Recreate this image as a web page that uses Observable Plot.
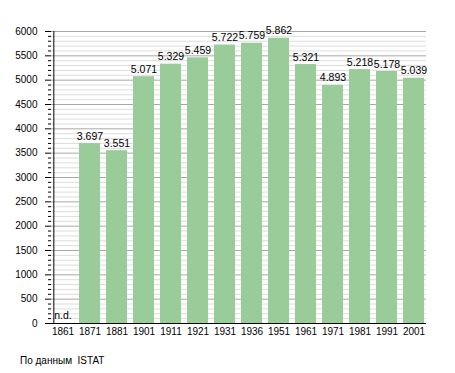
<!DOCTYPE html>
<html><head><meta charset="utf-8">
<script src="https://cdn.jsdelivr.net/npm/d3@7"></script>
<script src="https://cdn.jsdelivr.net/npm/@observablehq/plot@0.6"></script>
<style>
body{margin:0;background:#fff;font-family:"Liberation Sans",Arial,sans-serif;position:relative;width:455px;height:373px;}
#cap{position:absolute;left:20px;top:355px;font-size:10px;line-height:12px;color:#000;white-space:pre;}
</style>
</head><body>
<div id="chart"></div>
<div id="cap">По данным  ISTAT</div>
<script>
const years = ["1861","1871","1881","1901","1911","1921","1931","1936","1951","1961","1971","1981","1991","2001"];
const population = [null,3697,3551,5071,5329,5459,5722,5759,5862,5321,4893,5218,5178,5039];
const yTicks = [0,500,1000,1500,2000,2500,3000,3500,4000,4500,5000,5500,6000];

const data = years.map((y,i)=>({year:y, value:population[i]}));
const fmt = v => v == null ? "n.d." : d3.format(",")(v).replace(/,/g,".");
const minor = d3.range(0,6001,100).filter(v=>v%500!==0);
const ML = 46.5, MR = 26, W = 455;
const step = (W-ML-MR)/years.length;
const axisDx = 51 - (ML + step/2);

const chart = Plot.plot({
  width:W, height:345,
  marginLeft:ML, marginRight:MR, marginTop:31, marginBottom:22,
  style:{fontFamily:"'Liberation Sans',Arial,sans-serif", fontSize:"10px", background:"#fff", color:"#000"},
  x:{domain:years, paddingInner:0.21, paddingOuter:0.105, label:null},
  y:{domain:[0,6000], label:null},
  marks:[
    Plot.ruleY(minor,{stroke:"#dddddd", strokeWidth:1, insetLeft:4.5, insetRight:3}),
    Plot.ruleY(yTicks.filter(v=>v>0),{stroke:"#a8a8a8", strokeWidth:1, insetLeft:4.5, insetRight:3}),
    Plot.axisY({ticks:minor, tickSize:3, text:null, dx:4.5, stroke:"#000", strokeOpacity:1}),
    Plot.axisY({ticks:yTicks, tickSize:6, tickPadding:8, dx:4.5, tickFormat:d=>String(d), stroke:"#000", strokeOpacity:1, fill:"#000", fontSize:10}),
    Plot.axisX({tickSize:0, tickPadding:4, fontSize:10, fill:"#000"}),
    Plot.barY(data.filter(d=>d.value!=null),{x:"year", y:"value", fill:"#99cc99"}),
    Plot.text(data.filter(d=>d.value!=null),{x:"year", y:"value", text:d=>fmt(d.value), lineAnchor:"bottom", dy:-4, fontSize:10.5, fill:"#000"}),
    Plot.text(data.filter(d=>d.value==null),{x:"year", y:()=>0, text:d=>fmt(d.value), lineAnchor:"bottom", dy:-5, fontSize:10.5, fill:"#000"}),
    Plot.ruleY([0],{stroke:"#000", insetLeft:4.5, insetRight:3}),
    Plot.ruleX([years[0]],{x:d=>d, y1:0, y2:6000, dx:axisDx, stroke:"#000"})
  ]
});
document.getElementById("chart").appendChild(chart);
</script>
</body></html>
